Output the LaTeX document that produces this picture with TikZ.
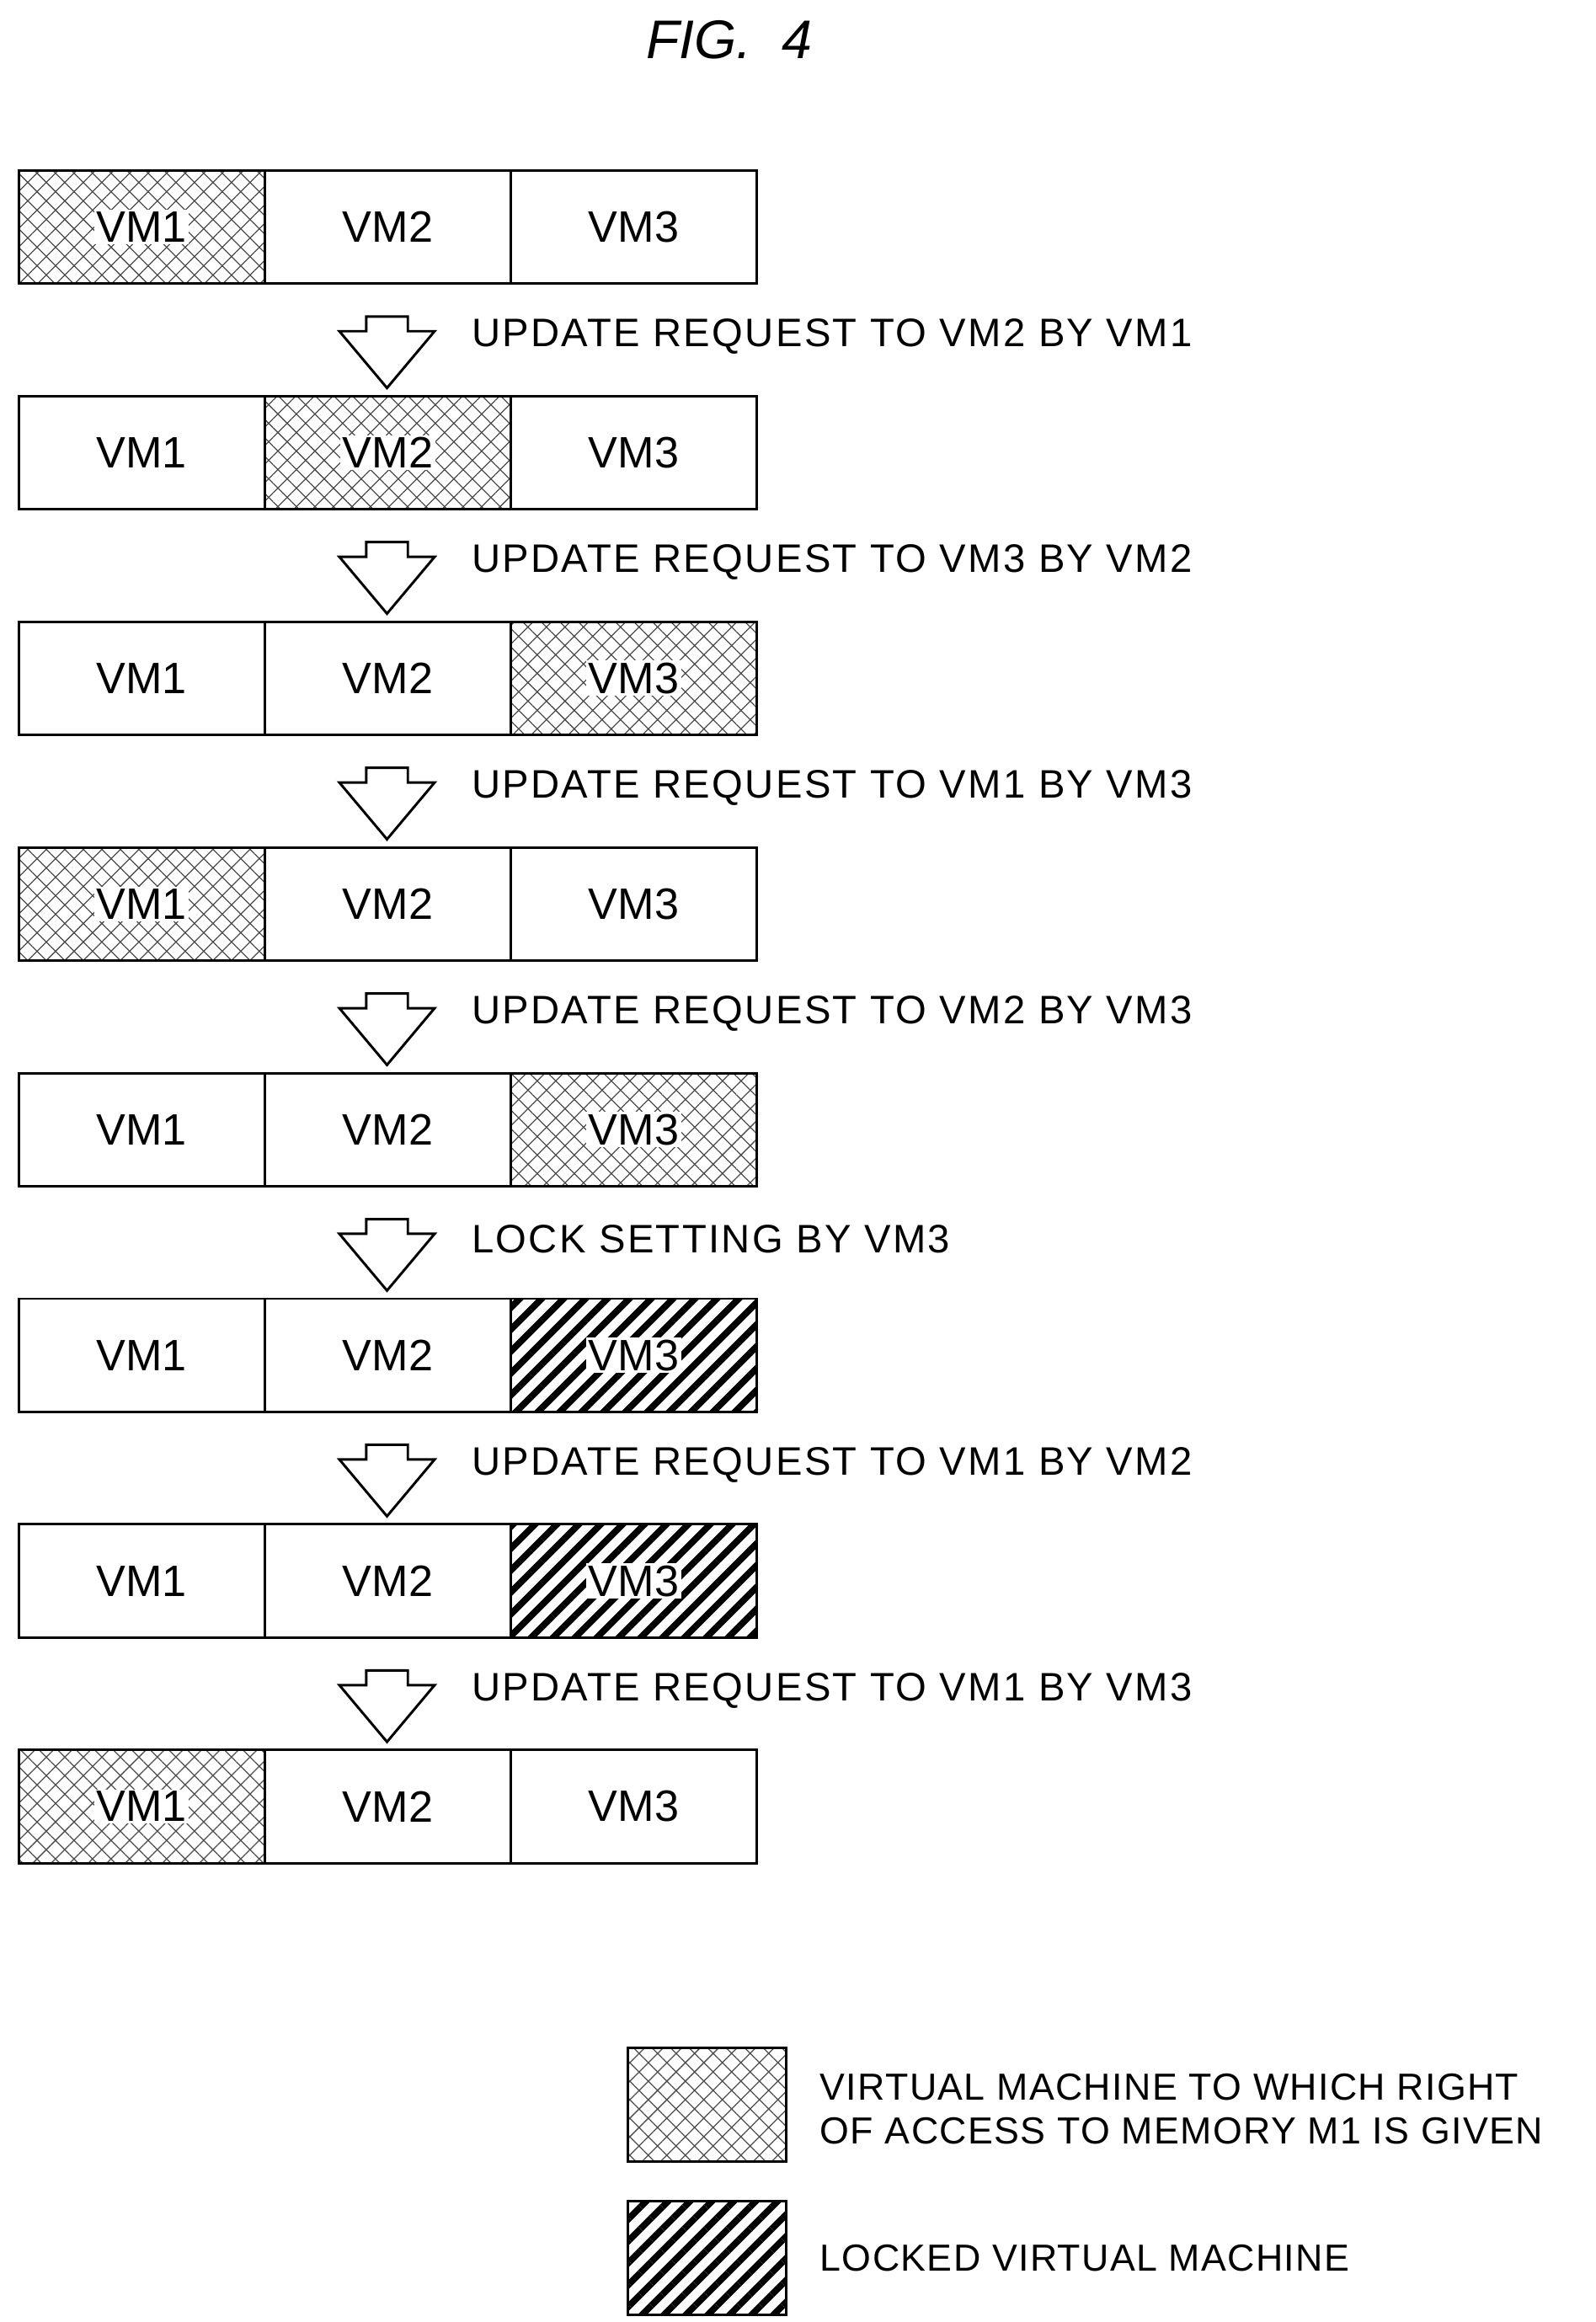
\documentclass[tikz,border=0pt]{standalone}
\usepackage{fontspec}
\setmainfont{Liberation Sans}
\usetikzlibrary{patterns.meta,shapes.arrows,positioning}
\tikzset{
    vm/.style = {draw, line width=1.2pt, rectangle, minimum width=41.3mm,
        minimum height=19mm, inner sep=0pt},
    free/.style = {vm},
    given/.style = {vm, pattern={Hatch[angle=45,distance=2.2mm,line width=0.5pt]}, pattern color=black!70},
    locked/.style = {vm, pattern={Lines[angle=45,distance=2.6mm,line width=1.1mm]}},
    vmtext/.style = {fill=white, inner sep=1pt, font=\fontsize{21}{24}\selectfont},
    downarrow/.style = {draw, line width=1.2pt, single arrow, rotate=-90,
        minimum width=16mm, minimum height=12mm, single arrow head extend=2.2mm,
        single arrow tip angle=80, inner sep=1.5mm},
    steptext/.style = {anchor=west, font=\fontsize{19}{22}\selectfont\addfontfeature{LetterSpace=5}},
    legtext/.style = {anchor=west, align=left, font=\fontsize{18}{21}\selectfont\addfontfeature{LetterSpace=3}},
}
\begin{document}
\begin{tikzpicture}[x=0.25mm,y=-0.25mm]
    \useasboundingbox (0,0) rectangle (1072,1560);
    \node[font=\fontsize{26}{28}\selectfont\itshape] (title) at (490,27) {FIG.\ \ 4};
    % rows of virtual machines
    \foreach \row/\sa/\sb/\sc in {1/given/free/free, 2/free/given/free, 3/free/free/given,
        4/given/free/free, 5/free/free/given, 6/free/free/locked, 7/free/free/locked,
        8/given/free/free} {
        \pgfmathsetmacro{\yy}{152.5+151.6*(\row-1)}
        \node[\sa] (r\row a) at (95.2,\yy) {};
        \node[\sb] (r\row b) at (260.5,\yy) {};
        \node[\sc] (r\row c) at (425.8,\yy) {};
        \node[vmtext] at (r\row a) {VM1};
        \node[vmtext] at (r\row b) {VM2};
        \node[vmtext] at (r\row c) {VM3};
    }
    % transitions
    \foreach \row/\txt in {1/UPDATE REQUEST TO VM2 BY VM1, 2/UPDATE REQUEST TO VM3 BY VM2,
        3/UPDATE REQUEST TO VM1 BY VM3, 4/UPDATE REQUEST TO VM2 BY VM3,
        5/LOCK SETTING BY VM3, 6/UPDATE REQUEST TO VM1 BY VM2,
        7/UPDATE REQUEST TO VM1 BY VM3} {
        \pgfmathsetmacro{\yy}{228.3+151.6*(\row-1)}
        \node[downarrow] (s\row) at (260,\yy) {};
        \node[steptext] (t\row) at (312,\yy-2) {\txt};
    }
    % legend
    \node[given, minimum width=26.5mm] (lg1) at (475,1414) {};
    \node[locked, minimum width=26.5mm] (lg2) at (475,1517) {};
    \node[legtext] (lt1) at (546,1417) {VIRTUAL MACHINE TO WHICH RIGHT\\OF ACCESS TO MEMORY M1 IS GIVEN};
    \node[legtext] (lt2) at (546,1517) {LOCKED VIRTUAL MACHINE};
\end{tikzpicture}
\end{document}
